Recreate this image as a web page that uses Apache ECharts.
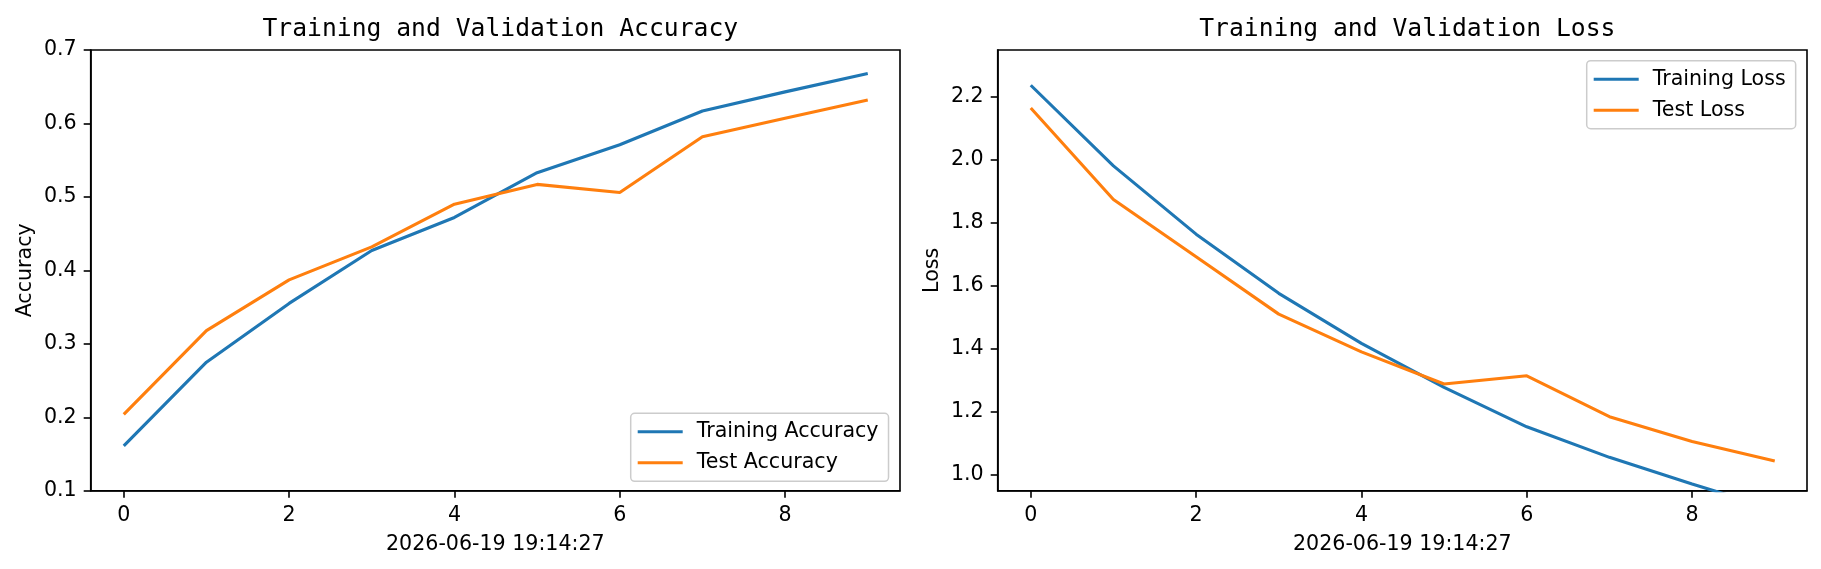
<!DOCTYPE html>
<html>
<head>
<meta charset="utf-8">
<script src="https://cdn.jsdelivr.net/npm/echarts@6/dist/echarts.min.js"></script>
<style>
html,body{margin:0;padding:0;background:#fff;}
#c{width:1821px;height:569px;}
</style>
</head>
<body>
<div id="c"></div>
<script>
const epochs = [0, 1, 2, 3, 4, 5, 6, 7, 8, 9];
const trainAcc = [0.161, 0.275, 0.355, 0.427, 0.472, 0.533, 0.571, 0.617, 0.643, 0.668];
const testAcc  = [0.204, 0.318, 0.387, 0.432, 0.490, 0.517, 0.506, 0.582, 0.607, 0.632];
const trainLoss = [2.237, 1.981, 1.764, 1.576, 1.417, 1.277, 1.152, 1.055, 0.970, 0.890];
const testLoss  = [2.165, 1.874, 1.692, 1.510, 1.390, 1.288, 1.314, 1.184, 1.105, 1.043];
const xTicks = [0, 2, 4, 6, 8];
const accTicks = [0.1, 0.2, 0.3, 0.4, 0.5, 0.6, 0.7];
const lossTicks = [1.0, 1.2, 1.4, 1.6, 1.8, 2.0, 2.2];
const xLabelText = '2026-06-19 19:14:27';

const pairs = (ys) => epochs.map((x, i) => [x, ys[i]]);
const C1 = '#1f77b4', C2 = '#ff7f0e';
const FS = 20.6;
const font = 'DejaVu Sans';

function xAxis(idx) {
  return {
    type: 'value', gridIndex: idx, min: -0.4, max: 9.39,
    name: xLabelText, nameLocation: 'middle', nameGap: 43,
    nameTextStyle: { fontFamily: font, fontSize: FS, color: '#000' },
    axisLine: { show: true, onZero: false, lineStyle: { color: '#000', width: 1.6 } },
    axisTick: { show: true, inside: false, length: 7, customValues: xTicks, lineStyle: { color: '#000', width: 1.6 } },
    axisLabel: { customValues: xTicks, margin: 14, fontFamily: font, fontSize: FS, color: '#000', formatter: v => String(v) },
    splitLine: { show: false }
  };
}
function yAxis(idx, name, min, max, ticks) {
  return {
    type: 'value', gridIndex: idx, min: min, max: max,
    name: name, nameLocation: 'middle', nameGap: 55, nameRotate: 90,
    nameTextStyle: { fontFamily: font, fontSize: FS, color: '#000' },
    axisLine: { show: true, onZero: false, lineStyle: { color: '#000', width: 1.6 } },
    axisTick: { show: true, inside: false, length: 7, customValues: ticks, lineStyle: { color: '#000', width: 1.6 } },
    axisLabel: { customValues: ticks, margin: 14, fontFamily: font, fontSize: FS, color: '#000', formatter: v => Number(v).toFixed(1) },
    splitLine: { show: false }
  };
}
function lineSeries(name, data, color, xi) {
  return {
    name: name, type: 'line', xAxisIndex: xi, yAxisIndex: xi, data: pairs(data),
    showSymbol: false, symbol: 'none', clip: true,
    lineStyle: { color: color, width: 3.1 }, itemStyle: { color: color },
    emphasis: { disabled: true }, animation: false
  };
}
function legend(names, left, top) {
  return {
    data: names, orient: 'vertical', left: left, top: top,
    icon: 'rect', itemWidth: 45, itemHeight: 3, itemGap: 10,
    padding: [8, 10, 8, 7],
    backgroundColor: 'rgba(255,255,255,0.8)', borderColor: '#cccccc', borderWidth: 1.5, borderRadius: 4,
    textStyle: { fontFamily: font, fontSize: FS, color: '#000', lineHeight: 20, padding: [0, 0, 0, 9] },
    selectedMode: false
  };
}

const chart = echarts.init(document.getElementById('c'), null, { renderer: 'canvas' });
chart.setOption({
  animation: false,
  backgroundColor: '#fff',
  title: [
    { text: 'Training and Validation Accuracy', left: 495.3, top: 12, textAlign: 'center',
      textStyle: { fontFamily: 'DejaVu Sans Mono', fontSize: 24.7, fontWeight: 'normal', color: '#000' } },
    { text: 'Training and Validation Loss', left: 1402.3, top: 12, textAlign: 'center',
      textStyle: { fontFamily: 'DejaVu Sans Mono', fontSize: 24.7, fontWeight: 'normal', color: '#000' } }
  ],
  grid: [
    { left: 90.7, right: 921, top: 50, bottom: 78.3, show: true, borderColor: '#000', borderWidth: 1.6, backgroundColor: 'transparent', containLabel: false },
    { left: 997.7, right: 14, top: 50, bottom: 78.3, show: true, borderColor: '#000', borderWidth: 1.6, backgroundColor: 'transparent', containLabel: false }
  ],
  xAxis: [xAxis(0), xAxis(1)],
  yAxis: [yAxis(0, 'Accuracy', 0.1, 0.7, accTicks), yAxis(1, 'Loss', 0.949, 2.349, lossTicks)],
  legend: [
    legend(['Training Accuracy', 'Test Accuracy'], 630.7, 413.3),
    legend(['Training Loss', 'Test Loss'], 1586.7, 60.7)
  ],
  series: [
    lineSeries('Training Accuracy', trainAcc, C1, 0),
    lineSeries('Test Accuracy', testAcc, C2, 0),
    lineSeries('Training Loss', trainLoss, C1, 1),
    lineSeries('Test Loss', testLoss, C2, 1)
  ]
});
</script>
</body>
</html>
